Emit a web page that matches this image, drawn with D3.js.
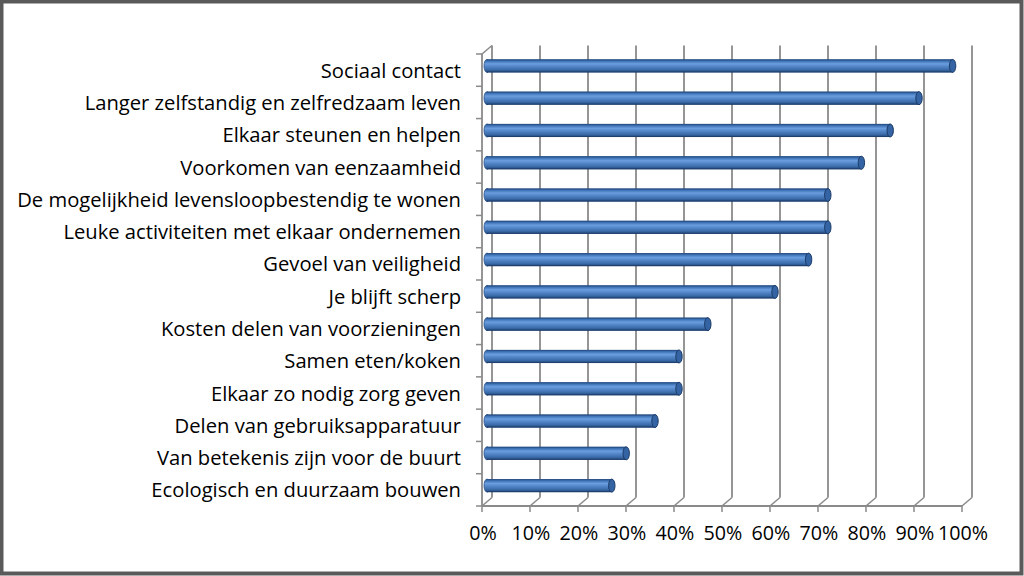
<!DOCTYPE html>
<html>
  <head>
    <meta charset="utf-8">
    <title>Redenen</title>
    <script src="https://d3js.org/d3.v7.min.js"></script>
    <style>
      body { margin: 0; background: #fff; }
      svg { display: block; }
      text { font-family: "Open Sans", "Noto Sans", sans-serif; fill: #000; }
    </style>
  </head>
  <body>
    <svg id="chart" width="1024" height="576"></svg>
    <script>
      // categories, top to bottom
      categories = [
        "Sociaal contact",
        "Langer zelfstandig en zelfredzaam leven",
        "Elkaar steunen en helpen",
        "Voorkomen van eenzaamheid",
        "De mogelijkheid levensloopbestendig te wonen",
        "Leuke activiteiten met elkaar ondernemen",
        "Gevoel van veiligheid",
        "Je blijft scherp",
        "Kosten delen van voorzieningen",
        "Samen eten/koken",
        "Elkaar zo nodig zorg geven",
        "Delen van gebruiksapparatuur",
        "Van betekenis zijn voor de buurt",
        "Ecologisch en duurzaam bouwen"
      ];
      values = [0.97, 0.90, 0.84, 0.78, 0.71, 0.71, 0.67, 0.60, 0.46, 0.40, 0.40, 0.35, 0.29, 0.26];
      ticks = [0, 0.1, 0.2, 0.3, 0.4, 0.5, 0.6, 0.7, 0.8, 0.9, 1];

      svg = d3.select("#chart");
      width = 1024;
      height = 576;
      dx = 10;      // depth offset
      dy = -8.5;
      gridColor = "#8a8a8a";

      // frame
      svg.append("rect")
        .attr("x", 1.5).attr("y", 1.5)
        .attr("width", width - 4).attr("height", height - 4)
        .attr("fill", "#fff")
        .attr("stroke", "#5a5a5a")
        .attr("stroke-width", 4);

      x = d3.scaleLinear().domain([0, 1]).range([482, 962]);
      y = d3.scaleBand().domain(categories).range([54, 506]).padding(0);
      y0 = y.range()[0];
      y1 = y.range()[1];

      // gradient for the cylinders
      defs = svg.append("defs");
      grad = defs.append("linearGradient")
        .attr("id", "cyl")
        .attr("x1", 0).attr("y1", 0).attr("x2", 0).attr("y2", 1);
      [[0, "#234a80"], [0.14, "#3f74b8"], [0.34, "#6b9edf"], [0.52, "#5589cb"],
       [0.8, "#3a6aa8"], [1, "#1f4274"]].forEach(function(s) {
        grad.append("stop").attr("offset", s[0]).attr("stop-color", s[1]);
      });

      grid = svg.append("g");
      // back gridlines
      grid.selectAll(".back")
          .data(ticks)
        .enter().append("line")
          .attr("x1", function(d) { return x(d) + dx; })
          .attr("x2", function(d) { return x(d) + dx; })
          .attr("y1", y0 + dy)
          .attr("y2", y1 + dy)
          .attr("stroke", gridColor)
          .attr("stroke-width", 1.8);
      // floor diagonals
      grid.selectAll(".floor")
          .data(ticks)
        .enter().append("line")
          .attr("x1", function(d) { return x(d); })
          .attr("x2", function(d) { return x(d) + dx; })
          .attr("y1", y1)
          .attr("y2", y1 + dy)
          .attr("stroke", gridColor)
          .attr("stroke-width", 1.5);
      // front baseline and ticks
      grid.append("line")
        .attr("x1", x(0)).attr("x2", x(1))
        .attr("y1", y1).attr("y2", y1)
        .attr("stroke", gridColor).attr("stroke-width", 1.8);
      grid.selectAll(".xtick")
          .data(ticks)
        .enter().append("line")
          .attr("x1", function(d) { return x(d); })
          .attr("x2", function(d) { return x(d); })
          .attr("y1", y1)
          .attr("y2", y1 + 6)
          .attr("stroke", gridColor).attr("stroke-width", 1.5);
      // left wall
      grid.append("line")
        .attr("x1", x(0)).attr("x2", x(0))
        .attr("y1", y0).attr("y2", y1)
        .attr("stroke", gridColor).attr("stroke-width", 1.8);
      grid.append("line")
        .attr("x1", x(0)).attr("x2", x(0) + dx)
        .attr("y1", y0).attr("y2", y0 + dy)
        .attr("stroke", gridColor).attr("stroke-width", 1.5);
      grid.selectAll(".ytick")
          .data(categories.concat([null]))
        .enter().append("line")
          .attr("x1", x(0) - 6)
          .attr("x2", x(0))
          .attr("y1", function(d) { return d === null ? y1 : y(d); })
          .attr("y2", function(d) { return d === null ? y1 : y(d); })
          .attr("stroke", gridColor).attr("stroke-width", 1.5);

      // bars
      barH = 13;
      bars = svg.append("g")
        .selectAll("g")
          .data(categories)
        .enter().append("g");
      function cy(d) { return y(d) + y.bandwidth() / 2 + dy / 2; }
      function bx0() { return x(0) + dx / 2; }
      function bx1(d, i) { return x(values[i]) + dx / 2; }
      bars.append("ellipse")
        .attr("cx", bx0)
        .attr("cy", cy)
        .attr("rx", 3)
        .attr("ry", barH / 2)
        .attr("fill", "url(#cyl)")
        .attr("stroke", "#2a5088")
        .attr("stroke-width", 0.8);
      bars.append("rect")
        .attr("x", bx0)
        .attr("y", function(d) { return cy(d) - barH / 2; })
        .attr("width", function(d, i) { return bx1(d, i) - bx0(); })
        .attr("height", barH)
        .attr("fill", "url(#cyl)");
      bars.append("line")
        .attr("x1", bx0).attr("x2", bx1)
        .attr("y1", function(d) { return cy(d) - barH / 2 + 0.4; })
        .attr("y2", function(d) { return cy(d) - barH / 2 + 0.4; })
        .attr("stroke", "#2a5088").attr("stroke-width", 0.8);
      bars.append("line")
        .attr("x1", bx0).attr("x2", bx1)
        .attr("y1", function(d) { return cy(d) + barH / 2 - 0.4; })
        .attr("y2", function(d) { return cy(d) + barH / 2 - 0.4; })
        .attr("stroke", "#1c3b68").attr("stroke-width", 0.8);
      bars.append("ellipse")
        .attr("cx", bx1)
        .attr("cy", cy)
        .attr("rx", 3.2)
        .attr("ry", barH / 2)
        .attr("fill", "#3464a3")
        .attr("stroke", "#1c3b68")
        .attr("stroke-width", 1);

      // category labels
      labels = svg.append("g")
        .selectAll("text")
          .data(categories)
        .enter().append("text")
          .attr("x", 461)
          .attr("y", function(d) { return y(d) + y.bandwidth() / 2 + 7.5; })
          .attr("text-anchor", "end")
          .style("font-size", "18px")
          .text(function(d) { return d; });
      // fit longest label to the reference width
      longest = d3.max(labels.nodes(), function(n) { return n.getComputedTextLength(); });
      fs = 18 * 444 / longest;
      labels.style("font-size", fs + "px");

      // tick labels
      svg.append("g")
        .selectAll("text")
          .data(ticks)
        .enter().append("text")
          .attr("x", function(d) { return x(d) + 1; })
          .attr("y", 540)
          .attr("text-anchor", "middle")
          .style("font-size", (fs - 0.5) + "px")
          .text(d3.format(".0%"));
    </script>
  </body>
</html>
